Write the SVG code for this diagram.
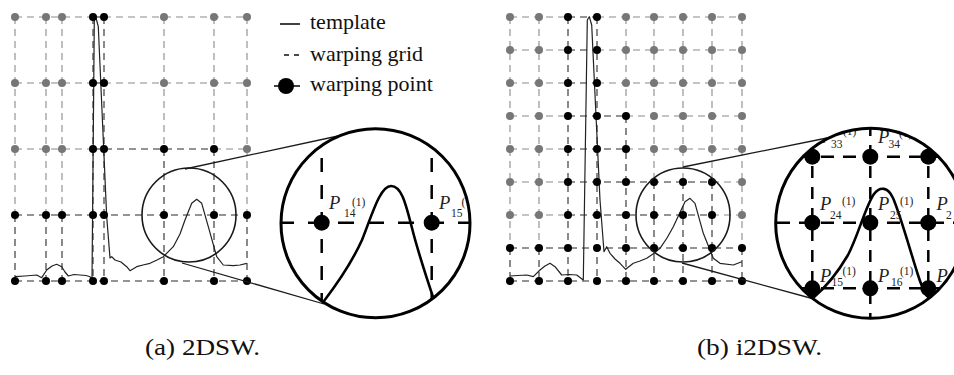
<svg xmlns="http://www.w3.org/2000/svg" width="954" height="375" viewBox="0 0 954 375">
<style>
.g{stroke:#8a8a8a;stroke-width:1.1;stroke-dasharray:7 5;fill:none}
.k{stroke:#2a2a2a;stroke-width:1.1;stroke-dasharray:7 5;fill:none}
.gd{fill:#777}
.bd{fill:#000}
.tpl{fill:none;stroke:#222;stroke-width:1.2;stroke-linejoin:round}
.sc{fill:none;stroke:#1a1a1a;stroke-width:1.6}
.tan{stroke:#1a1a1a;stroke-width:1.3}
.bc{fill:none;stroke:#000;stroke-width:3}
.zd{stroke:#000;stroke-width:2.5;fill:none}
.zc{fill:none;stroke:#000;stroke-width:2.6;stroke-linecap:round}
.P{font-family:"Liberation Serif",serif;font-style:italic;font-size:18.5px;fill:#222}
.s{font-family:"Liberation Serif",serif;font-size:11.5px;fill:#222}
.leg{font-family:"Liberation Serif",serif;font-size:22px;fill:#111}
.cap{font-family:"Liberation Serif",serif;font-size:24px;fill:#111}
</style>
<defs>
<clipPath id="clipL"><circle cx="375.5" cy="223.3" r="94.5"/></clipPath>
<clipPath id="clipR"><circle cx="870.7" cy="223.3" r="95"/></clipPath>
</defs>
<rect width="954" height="375" fill="#fff"/>

<!-- ============ LEFT PANEL (a) ============ -->
<g id="gridA">
<line class="g" x1="15" y1="17" x2="93" y2="17"/><line class="k" x1="93" y1="17" x2="104" y2="17"/><line class="g" x1="104" y1="17" x2="247" y2="17"/>
<line class="g" x1="15" y1="83" x2="93" y2="83"/><line class="k" x1="93" y1="83" x2="104" y2="83"/><line class="g" x1="104" y1="83" x2="247" y2="83"/>
<line class="g" x1="15" y1="149" x2="93" y2="149"/><line class="k" x1="93" y1="149" x2="214" y2="149"/><line class="g" x1="214" y1="149" x2="247" y2="149"/>
<line class="k" x1="15" y1="215" x2="247" y2="215"/>
<line class="k" x1="15" y1="281" x2="247" y2="281"/>
<line class="g" x1="15" y1="17" x2="15" y2="215"/><line class="k" x1="15" y1="215" x2="15" y2="281"/>
<line class="g" x1="46" y1="17" x2="46" y2="215"/><line class="k" x1="46" y1="215" x2="46" y2="281"/>
<line class="g" x1="62" y1="17" x2="62" y2="215"/><line class="k" x1="62" y1="215" x2="62" y2="281"/>
<line class="k" x1="93" y1="17" x2="93" y2="281"/>
<line class="k" x1="104" y1="17" x2="104" y2="281"/>
<line class="g" x1="164" y1="17" x2="164" y2="149"/><line class="k" x1="164" y1="149" x2="164" y2="281"/>
<line class="g" x1="214" y1="17" x2="214" y2="149"/><line class="k" x1="214" y1="149" x2="214" y2="281"/>
<line class="g" x1="247" y1="17" x2="247" y2="215"/><line class="k" x1="247" y1="215" x2="247" y2="281"/>
</g>
<g id="templateA">
<polyline class="tpl" points="15,276.7 25,276 36.7,275 41.7,277.7 46.7,270 52,266 56.7,264.3 61.7,266.7 65,272 68.3,276 74,274.5 80,275 86,275.5 90,276.7 92,280 94.3,20 96,18 98.3,26.7 106.7,216.7 110,258 111.7,256.7 115,260 121,262 126.7,266.7 130,270.7 136.7,266.7 143,265 150,263.3 157,260 163.3,256.7 173.3,246.7 180,234 185,220 191.7,203.3 196.7,199.3 201.7,203.3 208.3,226.7 216.7,256.7 223.3,265 233.3,265.7 240,265 246.7,263.3"/>
</g>
<g id="dotsA">
<circle class="gd" cx="15" cy="17" r="4"/><circle class="gd" cx="46" cy="17" r="4"/><circle class="gd" cx="62" cy="17" r="4"/><circle class="bd" cx="93" cy="17" r="4"/><circle class="bd" cx="104" cy="17" r="4"/><circle class="gd" cx="164" cy="17" r="4"/><circle class="gd" cx="214" cy="17" r="4"/><circle class="gd" cx="247" cy="17" r="4"/>
<circle class="gd" cx="15" cy="83" r="4"/><circle class="gd" cx="46" cy="83" r="4"/><circle class="gd" cx="62" cy="83" r="4"/><circle class="bd" cx="93" cy="83" r="4"/><circle class="bd" cx="104" cy="83" r="4"/><circle class="gd" cx="164" cy="83" r="4"/><circle class="gd" cx="214" cy="83" r="4"/><circle class="gd" cx="247" cy="83" r="4"/>
<circle class="gd" cx="15" cy="149" r="4"/><circle class="gd" cx="46" cy="149" r="4"/><circle class="gd" cx="62" cy="149" r="4"/><circle class="bd" cx="93" cy="149" r="4"/><circle class="bd" cx="104" cy="149" r="4"/><circle class="bd" cx="164" cy="149" r="4"/><circle class="bd" cx="214" cy="149" r="4"/><circle class="gd" cx="247" cy="149" r="4"/>
<circle class="bd" cx="15" cy="215" r="4"/><circle class="bd" cx="46" cy="215" r="4"/><circle class="bd" cx="62" cy="215" r="4"/><circle class="bd" cx="93" cy="215" r="4"/><circle class="bd" cx="104" cy="215" r="4"/><circle class="bd" cx="164" cy="215" r="4"/><circle class="bd" cx="214" cy="215" r="4"/><circle class="bd" cx="247" cy="215" r="4"/>
<circle class="bd" cx="15" cy="281" r="4"/><circle class="bd" cx="46" cy="281" r="4"/><circle class="bd" cx="62" cy="281" r="4"/><circle class="bd" cx="93" cy="281" r="4"/><circle class="bd" cx="104" cy="281" r="4"/><circle class="bd" cx="164" cy="281" r="4"/><circle class="bd" cx="214" cy="281" r="4"/><circle class="bd" cx="247" cy="281" r="4"/>
</g>
<g id="connectorsA">
<circle class="sc" cx="189" cy="215" r="47"/>
<line class="tan" x1="185" y1="169" x2="338" y2="136"/>
<line class="tan" x1="182" y1="263" x2="324" y2="304"/>
</g>
<g id="zoomA">
<circle cx="375.5" cy="223.3" r="94.5" fill="#fff"/>
<g clip-path="url(#clipL)">
<line class="zd" x1="321.7" y1="125" x2="321.7" y2="322" stroke-dasharray="14 13" stroke-dashoffset="-6"/>
<line class="zd" x1="431.7" y1="125" x2="431.7" y2="322" stroke-dasharray="14 13" stroke-dashoffset="-6"/>
<line class="zd" x1="278" y1="222.7" x2="473" y2="222.7" stroke-dasharray="16 14"/>
<circle class="bd" cx="321.7" cy="222.7" r="8"/>
<circle class="bd" cx="431.7" cy="222.7" r="8"/>
<path class="zc" d="M324,301 C340,280 352,262 362,240 C372,215 380,186 391,186 C402,186 406,205 412,228 C418,252 426,276 433,297"/>
<text class="P" x="329" y="209">P</text><text class="s" x="344" y="216.7">14</text><text class="s" x="352" y="206">(1)</text>
<text class="P" x="439" y="209">P</text><text class="s" x="451" y="216.7">15</text><text class="s" x="461.5" y="206">(1)</text>
</g>
<circle class="bc" cx="375.5" cy="223.3" r="94.5"/>
</g>

<g id="legend">
<line x1="280" y1="24" x2="300" y2="24" stroke="#111" stroke-width="1.6"/>
<text class="leg" x="310" y="29">template</text>
<line x1="284" y1="55" x2="301" y2="55" stroke="#111" stroke-width="1.6" stroke-dasharray="5 5"/>
<text class="leg" x="310" y="61">warping grid</text>
<line x1="274" y1="86" x2="300" y2="86" stroke="#111" stroke-width="1.6"/>
<circle cx="286" cy="86" r="8" fill="#000"/>
<text class="leg" x="310" y="91">warping point</text>
</g>

<!-- ============ RIGHT PANEL (b) ============ -->
<g id="gridB">
<line class="g" x1="510" y1="17" x2="568" y2="17"/><line class="k" x1="568" y1="17" x2="597" y2="17"/><line class="g" x1="597" y1="17" x2="742" y2="17"/>
<line class="g" x1="510" y1="50" x2="568" y2="50"/><line class="k" x1="568" y1="50" x2="597" y2="50"/><line class="g" x1="597" y1="50" x2="742" y2="50"/>
<line class="g" x1="510" y1="83" x2="568" y2="83"/><line class="k" x1="568" y1="83" x2="597" y2="83"/><line class="g" x1="597" y1="83" x2="742" y2="83"/>
<line class="g" x1="510" y1="116" x2="568" y2="116"/><line class="k" x1="568" y1="116" x2="626" y2="116"/><line class="g" x1="626" y1="116" x2="742" y2="116"/>
<line class="g" x1="510" y1="149" x2="568" y2="149"/><line class="k" x1="568" y1="149" x2="626" y2="149"/><line class="g" x1="626" y1="149" x2="742" y2="149"/>
<line class="g" x1="510" y1="182" x2="568" y2="182"/><line class="k" x1="568" y1="182" x2="712" y2="182"/><line class="g" x1="712" y1="182" x2="742" y2="182"/>
<line class="g" x1="510" y1="215" x2="568" y2="215"/><line class="k" x1="568" y1="215" x2="712" y2="215"/><line class="g" x1="712" y1="215" x2="742" y2="215"/>
<line class="k" x1="510" y1="248" x2="742" y2="248"/>
<line class="k" x1="510" y1="281" x2="742" y2="281"/>
<line class="g" x1="510" y1="17" x2="510" y2="248"/><line class="k" x1="510" y1="248" x2="510" y2="281"/>
<line class="g" x1="539" y1="17" x2="539" y2="248"/><line class="k" x1="539" y1="248" x2="539" y2="281"/>
<line class="k" x1="568" y1="17" x2="568" y2="281"/>
<line class="k" x1="597" y1="17" x2="597" y2="281"/>
<line class="g" x1="626" y1="17" x2="626" y2="116"/><line class="k" x1="626" y1="116" x2="626" y2="281"/>
<line class="g" x1="654" y1="17" x2="654" y2="182"/><line class="k" x1="654" y1="182" x2="654" y2="281"/>
<line class="g" x1="683" y1="17" x2="683" y2="182"/><line class="k" x1="683" y1="182" x2="683" y2="281"/>
<line class="g" x1="712" y1="17" x2="712" y2="182"/><line class="k" x1="712" y1="182" x2="712" y2="281"/>
<line class="g" x1="742" y1="17" x2="742" y2="248"/><line class="k" x1="742" y1="248" x2="742" y2="281"/>
</g>
<g id="templateB">
<polyline class="tpl" points="510,276 518,275.5 526.7,275 533.3,276.7 540,270 545,266 550,263.3 555,266.7 561.7,275 569,274.5 576.7,275 583.3,280 587.3,20 589.3,16.7 591.7,25 600,200 604,251.7 606.7,246.7 610,253.3 615,259 620,263.3 625.7,269.3 633.3,263.3 640,261 646.7,258.3 653,254 660,248.3 667,238 673.3,226.7 685,201.7 690,198.3 695,203.3 703.3,233.3 713.3,258.3 720,263.3 733.3,265 741.7,261.7"/>
</g>
<g id="dotsB">
<circle class="gd" cx="510" cy="17" r="4"/><circle class="gd" cx="539" cy="17" r="4"/><circle class="bd" cx="568" cy="17" r="4"/><circle class="bd" cx="597" cy="17" r="4"/><circle class="gd" cx="626" cy="17" r="4"/><circle class="gd" cx="654" cy="17" r="4"/><circle class="gd" cx="683" cy="17" r="4"/><circle class="gd" cx="712" cy="17" r="4"/><circle class="gd" cx="742" cy="17" r="4"/>
<circle class="gd" cx="510" cy="50" r="4"/><circle class="gd" cx="539" cy="50" r="4"/><circle class="bd" cx="568" cy="50" r="4"/><circle class="bd" cx="597" cy="50" r="4"/><circle class="gd" cx="626" cy="50" r="4"/><circle class="gd" cx="654" cy="50" r="4"/><circle class="gd" cx="683" cy="50" r="4"/><circle class="gd" cx="712" cy="50" r="4"/><circle class="gd" cx="742" cy="50" r="4"/>
<circle class="gd" cx="510" cy="83" r="4"/><circle class="gd" cx="539" cy="83" r="4"/><circle class="bd" cx="568" cy="83" r="4"/><circle class="bd" cx="597" cy="83" r="4"/><circle class="gd" cx="626" cy="83" r="4"/><circle class="gd" cx="654" cy="83" r="4"/><circle class="gd" cx="683" cy="83" r="4"/><circle class="gd" cx="712" cy="83" r="4"/><circle class="gd" cx="742" cy="83" r="4"/>
<circle class="gd" cx="510" cy="116" r="4"/><circle class="gd" cx="539" cy="116" r="4"/><circle class="bd" cx="568" cy="116" r="4"/><circle class="bd" cx="597" cy="116" r="4"/><circle class="bd" cx="626" cy="116" r="4"/><circle class="gd" cx="654" cy="116" r="4"/><circle class="gd" cx="683" cy="116" r="4"/><circle class="gd" cx="712" cy="116" r="4"/><circle class="gd" cx="742" cy="116" r="4"/>
<circle class="gd" cx="510" cy="149" r="4"/><circle class="gd" cx="539" cy="149" r="4"/><circle class="bd" cx="568" cy="149" r="4"/><circle class="bd" cx="597" cy="149" r="4"/><circle class="bd" cx="626" cy="149" r="4"/><circle class="gd" cx="654" cy="149" r="4"/><circle class="gd" cx="683" cy="149" r="4"/><circle class="gd" cx="712" cy="149" r="4"/><circle class="gd" cx="742" cy="149" r="4"/>
<circle class="gd" cx="510" cy="182" r="4"/><circle class="gd" cx="539" cy="182" r="4"/><circle class="bd" cx="568" cy="182" r="4"/><circle class="bd" cx="597" cy="182" r="4"/><circle class="bd" cx="626" cy="182" r="4"/><circle class="bd" cx="654" cy="182" r="4"/><circle class="bd" cx="683" cy="182" r="4"/><circle class="bd" cx="712" cy="182" r="4"/><circle class="gd" cx="742" cy="182" r="4"/>
<circle class="gd" cx="510" cy="215" r="4"/><circle class="gd" cx="539" cy="215" r="4"/><circle class="bd" cx="568" cy="215" r="4"/><circle class="bd" cx="597" cy="215" r="4"/><circle class="bd" cx="626" cy="215" r="4"/><circle class="bd" cx="654" cy="215" r="4"/><circle class="bd" cx="683" cy="215" r="4"/><circle class="bd" cx="712" cy="215" r="4"/><circle class="gd" cx="742" cy="215" r="4"/>
<circle class="bd" cx="510" cy="248" r="4"/><circle class="bd" cx="539" cy="248" r="4"/><circle class="bd" cx="568" cy="248" r="4"/><circle class="bd" cx="597" cy="248" r="4"/><circle class="bd" cx="626" cy="248" r="4"/><circle class="bd" cx="654" cy="248" r="4"/><circle class="bd" cx="683" cy="248" r="4"/><circle class="bd" cx="712" cy="248" r="4"/><circle class="bd" cx="742" cy="248" r="4"/>
<circle class="bd" cx="510" cy="281" r="4"/><circle class="bd" cx="539" cy="281" r="4"/><circle class="bd" cx="568" cy="281" r="4"/><circle class="bd" cx="597" cy="281" r="4"/><circle class="bd" cx="626" cy="281" r="4"/><circle class="bd" cx="654" cy="281" r="4"/><circle class="bd" cx="683" cy="281" r="4"/><circle class="bd" cx="712" cy="281" r="4"/><circle class="bd" cx="742" cy="281" r="4"/>
</g>
<g id="connectorsB">
<circle class="sc" cx="683" cy="215" r="47"/>
<line class="tan" x1="683" y1="167" x2="827" y2="138"/>
<line class="tan" x1="682" y1="263" x2="814" y2="299"/>
</g>
<g id="zoomB">
<circle cx="870.7" cy="223.3" r="95" fill="#fff"/>
<g clip-path="url(#clipR)">
<line class="zd" x1="812.3" y1="120" x2="812.3" y2="322" stroke-dasharray="12 9" stroke-dashoffset="-4"/>
<line class="zd" x1="870.3" y1="120" x2="870.3" y2="322" stroke-dasharray="12 9" stroke-dashoffset="-4"/>
<line class="zd" x1="928.3" y1="120" x2="928.3" y2="322" stroke-dasharray="12 9" stroke-dashoffset="-4"/>
<line class="zd" x1="774" y1="156.7" x2="968" y2="156.7" stroke-dasharray="13 9" stroke-dashoffset="-3"/>
<line class="zd" x1="774" y1="222.7" x2="968" y2="222.7" stroke-dasharray="13 9" stroke-dashoffset="-3"/>
<line class="zd" x1="774" y1="288.3" x2="968" y2="288.3" stroke-dasharray="13 9" stroke-dashoffset="-3"/>
<circle class="bd" cx="812.3" cy="156.7" r="8"/><circle class="bd" cx="870.3" cy="156.7" r="8"/><circle class="bd" cx="928.3" cy="156.7" r="8"/>
<circle class="bd" cx="812.3" cy="222.7" r="8"/><circle class="bd" cx="870.3" cy="222.7" r="8"/><circle class="bd" cx="928.3" cy="222.7" r="8"/>
<circle class="bd" cx="812.3" cy="288.3" r="8"/><circle class="bd" cx="870.3" cy="288.3" r="8"/><circle class="bd" cx="928.3" cy="288.3" r="8"/>
<path class="zc" d="M813,298 C825,288 838,272 848,255 C858,236 866,205 874,194 C880,186 888,187 893,198 C900,214 910,250 918,275 C921,285 924,291 927,296"/>
<text class="P" x="820" y="143.3">P</text><text class="s" x="831" y="148.3">33</text><text class="s" x="843" y="135">(1)</text>
<text class="P" x="878" y="143.3">P</text><text class="s" x="888.5" y="148.3">34</text><text class="s" x="899" y="137">(1)</text>
<text class="P" x="820" y="210">P</text><text class="s" x="830" y="219">24</text><text class="s" x="842" y="204.5">(1)</text>
<text class="P" x="878" y="210">P</text><text class="s" x="890" y="219">25</text><text class="s" x="900" y="204.5">(1)</text>
<text class="P" x="936.5" y="210">P</text><text class="s" x="946" y="219">2</text>
<text class="P" x="820" y="281.7">P</text><text class="s" x="831.5" y="285.5">15</text><text class="s" x="842.5" y="275">(1)</text>
<text class="P" x="878" y="281.7">P</text><text class="s" x="891" y="285.5">16</text><text class="s" x="900" y="275">(1)</text>
<text class="P" x="936.5" y="281.7">P</text>
</g>
<circle class="bc" cx="870.7" cy="223.3" r="95"/>
</g>

<text class="cap" x="145" y="355" textLength="115" lengthAdjust="spacingAndGlyphs">(a) 2DSW.</text>
<text class="cap" x="697" y="355" textLength="125" lengthAdjust="spacingAndGlyphs">(b) i2DSW.</text>
</svg>
